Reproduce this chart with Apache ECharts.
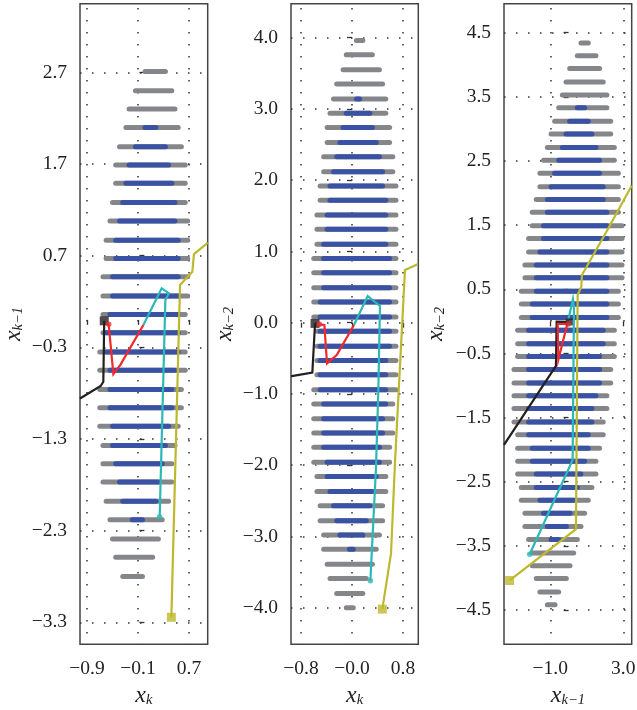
<!DOCTYPE html>
<html>
<head>
<meta charset="utf-8">
<script src="https://cdn.jsdelivr.net/npm/echarts@6/dist/echarts.min.js"></script>
<style>html,body{margin:0;padding:0;background:#fff}#c{width:637px;height:710px}</style>
</head>
<body>
<div id="c"></div>
<script>
// ---------- Panel 1: x_k vs x_{k-1} ----------
const rowY1 = [2.71,2.50,2.30,2.10,1.89,1.69,1.49,1.28,1.08,.87,.67,.47,.26,.06,-.14,-.35,-.55,-.76,-.96,-1.16,-1.37,-1.57,-1.77,-1.98,-2.18,-2.39,-2.59,-2.80];
const grayFrom1 = [.01,-.14,-.24,-.29,-.39,-.45,-.45,-.50,-.54,-.60,-.60,-.65,-.65,-.65,-.65,-.70,-.70,-.70,-.70,-.70,-.65,-.65,-.65,-.60,-.54,-.50,-.45,-.34];
const grayTo1 = [.33,.43,.48,.53,.58,.64,.64,.64,.68,.68,.68,.68,.68,.64,.64,.64,.64,.58,.58,.53,.48,.43,.43,.38,.28,.22,.13,-.03];
const blueFrom1 = [null,null,null,.01,-.14,-.24,-.29,-.34,-.39,-.45,-.45,-.50,-.50,-.54,-.60,-.60,-.54,-.54,-.54,-.50,-.50,-.45,-.39,-.34,-.19,null,null,null];
const blueTo1 = [null,null,null,.18,.33,.38,.43,.48,.48,.53,.53,.53,.53,.53,.53,.53,.48,.43,.43,.38,.33,.28,.22,.18,-.03,null,null,null];
const black1 = [[-.63,-.01],[-.644,-.675],[-.686,-.722],[-1.01,-.858]];
const red1 = [[-.56,-.049],[-.487,-.591],[-.372,-.485],[-.016,-.056]];
const teal1 = [[-.016,-.056],[.271,.344],[.386,.289],[.329,.216],[.24,-2.147]];
const yellow1 = [[.423,-3.245],[.559,.38],[.752,.525],[.778,.718],[.982,.835],[.993,.84]];
const xTicks1 = ['−0.9','−0.1','0.7'];
const yTicks1 = ['2.7','1.7','0.7','−0.3','−1.3','−2.3','−3.3'];

// ---------- Panel 2: x_k vs x_{k-2} ----------
const rowY2 = [3.96,3.76,3.55,3.35,3.14,2.94,2.74,2.53,2.33,2.12,1.92,1.72,1.51,1.31,1.10,.90,.70,.49,.29,.08,-.12,-.33,-.53,-.73,-.94,-1.14,-1.35,-1.55,-1.75,-1.96,-2.16,-2.37,-2.57,-2.78,-2.98,-3.18,-3.39,-3.59,-3.80,-4.00];
const grayFrom2 = [.07,-.09,-.14,-.24,-.29,-.345,-.39,-.39,-.445,-.445,-.50,-.50,-.55,-.55,-.55,-.60,-.60,-.60,-.60,-.60,-.55,-.55,-.55,-.55,-.60,-.60,-.60,-.60,-.60,-.60,-.55,-.55,-.50,-.50,-.445,-.445,-.39,-.345,-.24,-.09];
const grayTo2 = [.17,.32,.43,.48,.53,.53,.59,.59,.64,.64,.69,.69,.69,.69,.69,.69,.69,.69,.69,.69,.69,.69,.69,.69,.69,.64,.64,.64,.59,.59,.53,.53,.48,.48,.43,.38,.32,.225,.17,.02];
const blueFrom2 = [null,null,null,null,.07,-.09,-.14,-.19,-.24,-.29,-.345,-.345,-.39,-.39,-.445,-.445,-.445,-.445,-.50,-.50,-.50,-.50,-.50,-.50,-.50,-.445,-.445,-.445,-.445,-.39,-.39,-.345,-.29,-.24,-.19,-.04,null,null,null,null];
const blueTo2 = [null,null,null,null,.12,.28,.32,.38,.43,.48,.48,.53,.53,.53,.53,.59,.59,.59,.59,.59,.59,.59,.53,.53,.53,.53,.48,.48,.43,.43,.38,.32,.28,.225,.17,.02,null,null,null,null];
const black2 = [[-.58,-.01],[-.622,-.70],[-.946,-.75],[-.957,-.752]];
const red2 = [[-.512,-.023],[-.434,-.033],[-.392,-.571],[-.24,-.454],[.031,-.033]];
const teal2 = [[.031,-.033],[.246,.374],[.439,.234],[.413,-.945],[.376,-2.044],[.288,-3.622]];
const yellow2 = [[.476,-4.02],[.612,-3.239],[.675,-1.95],[.831,.739],[1.03,.819],[1.04,.822]];
const xTicks2 = ['−0.8','−0.0','0.8'];
const yTicks2 = ['4.0','3.0','2.0','1.0','0.0','−1.0','−2.0','−3.0','−4.0'];

// ---------- Panel 3: x_{k-1} vs x_{k-2} ----------
const rowY3 = [4.34,4.14,3.94,3.73,3.53,3.33,3.12,2.92,2.71,2.51,2.31,2.10,1.90,1.70,1.49,1.29,1.08,.88,.68,.47,.27,.06,-.14,-.35,-.55,-.75,-.96,-1.16,-1.36,-1.57,-1.77,-1.98,-2.18,-2.38,-2.59,-2.79,-2.99,-3.20,-3.40,-3.61,-3.81,-4.01,-4.22,-4.42];
const grayFrom3 = [.68,.48,.06,-.14,-.34,-.54,-.76,-.96,-1.16,-1.37,-1.57,-1.57,-1.77,-1.99,-1.99,-2.19,-2.19,-2.39,-2.39,-2.59,-2.59,-2.59,-2.79,-2.79,-2.79,-2.99,-2.99,-2.99,-2.99,-2.99,-2.79,-2.79,-2.79,-2.79,-2.59,-2.59,-2.39,-2.39,-2.19,-1.99,-1.99,-1.77,-1.57,-1.16];
const grayTo3 = [1.08,1.50,1.70,1.90,2.10,2.10,2.31,2.31,2.51,2.51,2.73,2.73,2.73,2.73,2.93,2.93,2.93,2.93,2.93,2.73,2.73,2.73,2.51,2.51,2.51,2.31,2.31,2.10,2.10,1.90,1.90,1.70,1.50,1.50,1.28,1.08,.88,.68,.48,.28,.08,-.12,-.54,-.74];
const blueFrom3 = [null,null,null,null,null,.48,.06,-.14,-.34,-.54,-.76,-.96,-1.16,-1.16,-1.37,-1.37,-1.57,-1.77,-1.77,-1.77,-1.99,-1.99,-2.19,-2.19,-2.19,-2.19,-2.19,-2.19,-2.19,-2.19,-2.19,-1.99,-1.99,-1.77,-1.77,-1.57,-1.37,-1.16,-.96,null,null,null,null,null];
const blueTo3 = [null,null,null,null,null,.88,1.08,1.28,1.50,1.70,1.70,1.90,1.90,2.10,2.10,2.10,2.10,2.10,2.10,2.10,2.10,2.10,1.90,1.90,1.70,1.70,1.70,1.50,1.28,1.28,1.08,1.08,.88,.68,.48,.28,.08,-.12,-.54,null,null,null,null,null];
const black3 = [[.04,-.009],[-.653,-.004],[-.69,-.695],[-3.537,-1.925]];
const red3 = [[-.014,-.04],[-.598,-.04],[-.56,-.60],[-.05,-.02]];
const teal3 = [[-.05,-.02],[.242,.349],[.297,.23],[.224,-2.16],[-2.13,-3.63]];
const yellow3 = [[-3.23,-4.04],[.406,-3.24],[.498,.41],[.70,.54],[.735,.723],[2.12,1.42],[3.457,2.115]];
const xTicks3 = ['−1.0','3.0'];
const yTicks3 = ['4.5','3.5','2.5','1.5','0.5','−0.5','−1.5','−2.5','−3.5','−4.5'];

// ---------- Layout and style ----------
const panels = [
  {left:80, width:127.7, xr:[-1.01,.993], yr:[-3.54,3.45], rowY:rowY1, gf:grayFrom1, gt:grayTo1, bf:blueFrom1, bt:blueTo1, black:black1, red:red1, teal:teal1, yellow:yellow1, xt:xTicks1, yt:yTicks1, xn:'{i|x}{s|k}', yn:'{i|x}{s|k−1}', yGap:52, bs:9},
  {left:291, width:127.3, xr:[-.957,1.04], yr:[-4.514,4.477], rowY:rowY2, gf:grayFrom2, gt:grayTo2, bf:blueFrom2, bt:blueTo2, black:black2, red:red2, teal:teal2, yellow:yellow2, xt:xTicks2, yt:yTicks2, xn:'{i|x}{s|k}', yn:'{i|x}{s|k−2}', yGap:52, bs:9},
  {left:504, width:127.7, xr:[-3.537,3.46], yr:[-5.035,4.952], rowY:rowY3, gf:grayFrom3, gt:grayTo3, bf:blueFrom3, bt:blueTo3, black:black3, red:red3, teal:teal3, yellow:yellow3, xt:xTicks3, yt:yTicks3, xn:'{i|x}{s|k−1}', yn:'{i|x}{s|k−2}', yGap:54, bs:7}
];
const GRAY='#85868a', BLUE='#3a52a3', BLACK='#231f20', RED='#ee2a30', TEAL='#2bb8b8', YELLOW='#bdb92e';
const FONT='"Liberation Serif", serif';
const num = s => parseFloat(s.replace('−','-'));
const nameRich = {
  i:{fontFamily:FONT, fontStyle:'italic', fontSize:24, color:'#222', lineHeight:28, verticalAlign:'middle'},
  s:{fontFamily:FONT, fontStyle:'italic', fontSize:14.5, color:'#222', lineHeight:28, padding:[9,0,0,0], verticalAlign:'middle'}
};
const dotLine = off => ({show:true, lineStyle:{color:'#333', width:1.5, type:[1.5,10.5], dashOffset:off}});

const grid=[], xAxis=[], yAxis=[], series=[];
panels.forEach((p,i)=>{
  grid.push({left:p.left, top:3.7, width:p.width, height:640.6, show:true, borderColor:'#444', borderWidth:1.5, backgroundColor:'#fff', containLabel:false, outerBoundsMode:'none'});
  const xv=p.xt.map(num), yv=p.yt.map(num);
  const common={type:'value', gridIndex:i, axisLine:{show:false}, minorTick:{show:false}, nameMoveOverlap:false,
    axisTick:{show:true, length:5, lineStyle:{color:'#333', width:1.3}}};
  xAxis.push({...common, min:p.xr[0], max:p.xr[1], name:p.xn, nameLocation:'middle', nameGap:37,
    nameTextStyle:{rich:nameRich},
    axisTick:{...common.axisTick, customValues:xv},
    axisLabel:{customValues:xv, margin:15, fontFamily:FONT, fontSize:19.5, color:'#222', formatter:v=>p.xt[xv.indexOf(v)]},
    splitLine:{...dotLine(7.7), customValues:xv}});
  yAxis.push({...common, min:p.yr[0], max:p.yr[1], name:p.yn, nameLocation:'middle', nameRotate:90, nameGap:p.yGap,
    nameTextStyle:{rich:nameRich},
    axisTick:{...common.axisTick, customValues:yv},
    axisLabel:{customValues:yv, margin:13, fontFamily:FONT, fontSize:19.5, color:'#222', formatter:v=>p.yt[yv.indexOf(v)]},
    splitLine:{...dotLine(0), customValues:yv}});
  const ax={xAxisIndex:i, yAxisIndex:i};
  const bars=(from,to,color)=>{
    const d=[];
    p.rowY.forEach((y,r)=>{ if(from[r]!==null){ d.push([from[r],to[r],y]); } });
    return {...ax, type:'custom', data:d, encode:{x:[0,1], y:2}, animation:false, silent:true, clip:true, z:2,
      renderItem:(params,api)=>{
        const a=api.coord([api.value(0),api.value(2)]), b=api.coord([api.value(1),api.value(2)]);
        return {type:'line', shape:{x1:a[0],y1:a[1],x2:b[0],y2:b[1]}, style:{stroke:color, lineWidth:5, lineCap:'round', fill:null}};
      }};
  };
  series.push(bars(p.gf,p.gt,GRAY), bars(p.bf,p.bt,BLUE));
  const path=(d,color,z)=>({...ax, type:'line', data:d, symbol:'none', animation:false, silent:true,
    lineStyle:{color, width:2.2, join:'miter'}, z});
  series.push(path(p.black,BLACK,3), path(p.yellow,YELLOW,3), path(p.teal,TEAL,4), path(p.red,RED,4));
  const mark=(pt,symbol,size,color,z)=>({...ax, type:'scatter', data:[pt], symbol, symbolSize:size, animation:false, silent:true, itemStyle:{color}, z});
  series.push(
    mark(p.black[0],'rect',p.bs,BLACK,5),
    mark(p.yellow[0],'rect',9,YELLOW,5),
    mark(p.teal[p.teal.length-1],'circle',5.5,TEAL,6),
    mark(p.red[0],'circle',5.5,RED,6));
});
const chart=echarts.init(document.getElementById('c'),null,{renderer:'canvas'});
chart.setOption({animation:false, backgroundColor:'#fff', grid, xAxis, yAxis, series});
</script>
</body>
</html>
